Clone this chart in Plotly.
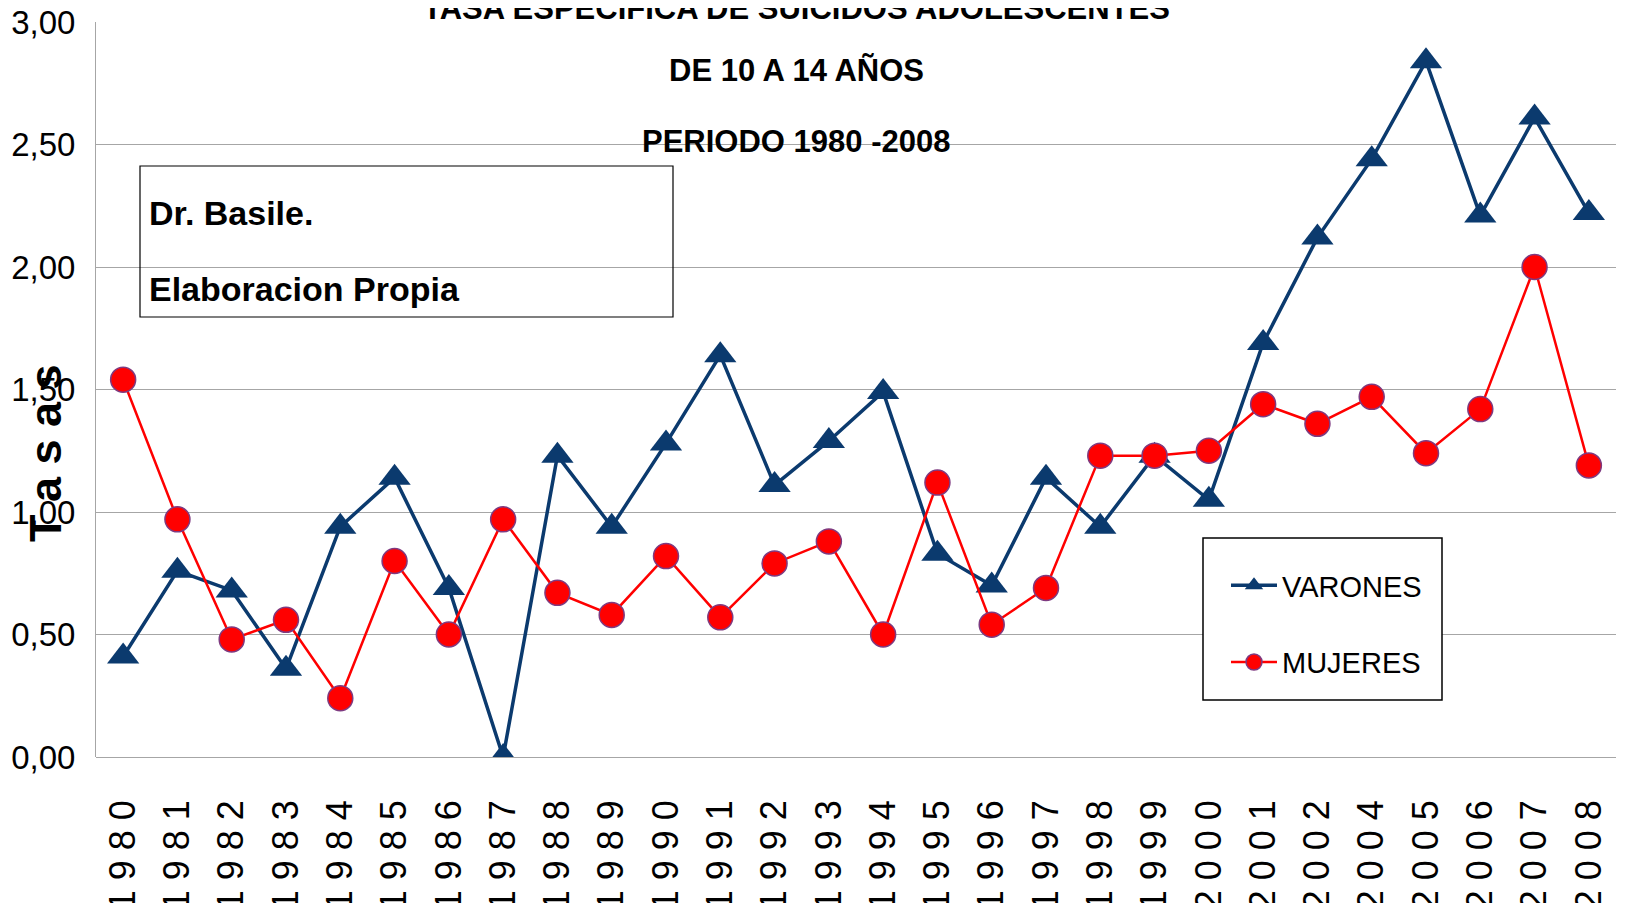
import plotly.graph_objects as go

years = ["1980", "1981", "1982", "1983", "1984", "1985", "1986", "1987", "1988", "1989",
         "1990", "1991", "1992", "1993", "1994", "1995", "1996", "1997", "1998", "1999",
         "2000", "2001", "2002", "2004", "2005", "2006", "2007", "2008"]
varones = [0.41, 0.76, 0.68, 0.36, 0.94, 1.14, 0.69, 0.00, 1.23, 0.94,
           1.28, 1.64, 1.11, 1.29, 1.49, 0.83, 0.70, 1.14, 0.94, 1.23,
           1.05, 1.69, 2.12, 2.44, 2.84, 2.21, 2.61, 2.22]
mujeres = [1.54, 0.97, 0.48, 0.56, 0.24, 0.80, 0.50, 0.97, 0.67, 0.58,
           0.82, 0.57, 0.79, 0.88, 0.50, 1.12, 0.54, 0.69, 1.23, 1.23,
           1.25, 1.44, 1.36, 1.47, 1.24, 1.42, 2.00, 1.19]
tick_labels = [" ".join(y) for y in years]
title_lines = ["TASA ESPECIFICA DE SUICIDOS ADOLESCENTES", "DE 10 A 14 AÑOS", "PERIODO 1980 -2008"]

# page body has an 8px margin; target positions below are in screenshot pixels
OFF = 8
W, H = 1626 - OFF, 903 - OFF
L, R, T, B = 96, 1616, 22, 757
FONT = "Liberation Sans, Arial, sans-serif"


def px(x):
    return (x - L) / (R - L)


def py(y):
    return (B - y) / (B - T)


fig = go.Figure()
fig.add_trace(go.Scatter(
    x=years, y=varones, name="VARONES", mode="lines+markers", legendgroup="v",
    line=dict(color="#0B3A6E", width=3.5),
    marker=dict(symbol="triangle-up", size=28, color="#0B3A6E"),
))
fig.add_trace(go.Scatter(
    x=years, y=mujeres, name="MUJERES", mode="lines+markers", legendgroup="m",
    line=dict(color="#FF0000", width=2.5),
    marker=dict(symbol="circle", size=25, color="#FF0000", line=dict(color="#7E3A80", width=1.5)),
))

annotations = []
for text, yc in zip(title_lines, [9, 71, 141]):
    annotations.append(dict(
        text="<b>%s</b>" % text, xref="paper", yref="paper", x=px(796), y=py(yc),
        xanchor="center", yanchor="middle", showarrow=False,
        font=dict(family=FONT, size=31, color="black"),
    ))
annotations.append(dict(
    text="<b>T a s a s</b>", xref="paper", yref="paper", x=px(45), y=py(453),
    xanchor="center", yanchor="middle", showarrow=False, textangle=-90,
    font=dict(family=FONT, size=45, color="black"),
))
for text, yc in [("Dr. Basile.", 213), ("Elaboracion Propia", 289)]:
    annotations.append(dict(
        text="<b>%s</b>" % text, xref="paper", yref="paper", x=px(147), y=py(yc),
        xanchor="left", yanchor="middle", showarrow=False,
        font=dict(family=FONT, size=34, color="black"),
    ))

fig.update_layout(
    width=W, height=H,
    margin=dict(l=L - OFF, r=W - (R - OFF), t=T - OFF, b=H - (B - OFF)),
    paper_bgcolor="white", plot_bgcolor="white",
    separators=",.",
    showlegend=True,
    legend=dict(
        x=px(1226), y=py(560), xanchor="left", yanchor="top",
        borderwidth=0, bgcolor="rgba(0,0,0,0)",
        font=dict(family=FONT, size=29, color="black"),
        tracegroupgap=36, traceorder="grouped", itemwidth=46,
    ),
    annotations=annotations,
    shapes=[
        dict(type="rect", xref="paper", yref="paper",
             x0=px(140), x1=px(673), y0=py(317), y1=py(166),
             line=dict(color="black", width=1.2), fillcolor="rgba(0,0,0,0)"),
        dict(type="rect", xref="paper", yref="paper", layer="above",
             x0=px(1203), x1=px(1442), y0=py(700), y1=py(538),
             line=dict(color="black", width=1.5), fillcolor="white"),
    ],
)
fig.update_xaxes(
    type="category", tickvals=years, ticktext=tick_labels, tickangle=-90,
    range=[-0.5, len(years) - 0.5],
    tickfont=dict(family=FONT, size=36, color="black"),
    showgrid=False, showline=False, ticks="", ticklabelstandoff=35,
    automargin=False, ticklabeloverflow="allow",
)
fig.update_yaxes(
    range=[0, 3], dtick=0.5, tickformat=".2f",
    tickfont=dict(family=FONT, size=33, color="black"),
    showgrid=True, gridcolor="#A6A6A6", gridwidth=1,
    showline=True, linecolor="#A6A6A6", linewidth=1,
    zeroline=True, zerolinecolor="#A6A6A6", zerolinewidth=1,
    ticks="", ticklabelstandoff=13, automargin=False, ticklabeloverflow="allow",
)

fig.write_html("out.html")
